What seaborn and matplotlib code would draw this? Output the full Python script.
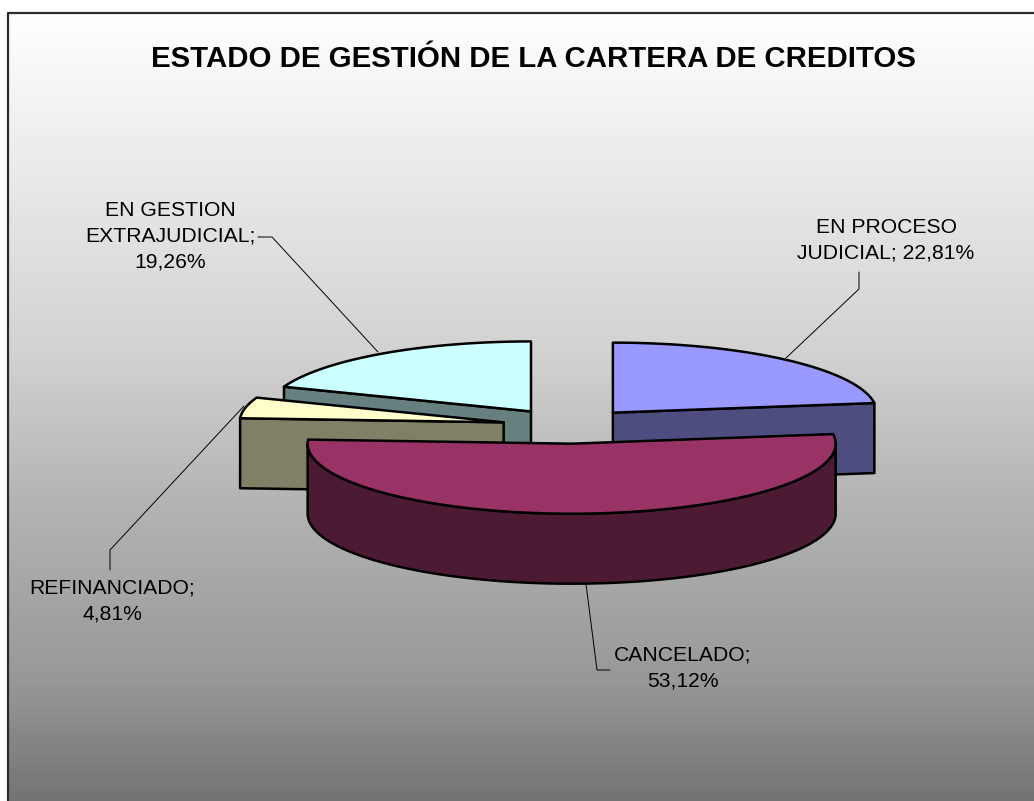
import numpy as np
import matplotlib
matplotlib.use("Agg")
import matplotlib.pyplot as plt
import seaborn as sns
from matplotlib.colors import LinearSegmentedColormap
from matplotlib.patches import Polygon

categories = ["EN PROCESO\nJUDICIAL; 22,81%", "CANCELADO;\n53,12%", "REFINANCIADO;\n4,81%", "EN GESTION\nEXTRAJUDICIAL;\n19,26%"]
values = [22.81, 53.12, 4.81, 19.26]
top_colors = ["#9999FF", "#993366", "#FFFFCC", "#CCFFFF"]
side_colors = ["#4D4D80", "#4D1A33", "#808066", "#668080"]

sns.set_theme(style="white")
plt.rcParams["font.family"] = ["Liberation Sans", "DejaVu Sans"]

top_pal = sns.color_palette(top_colors)
side_pal = sns.color_palette(side_colors)

# pie geometry in pixels
cx, cy = 569, 426
rx, ry = 264, 70
depth = 70
explode = 0.253
edge = 1.8

fig = plt.figure(figsize=(10.34, 8.01), dpi=100)
ax = fig.add_axes([0, 0, 1, 1])
ax.set_xlim(0, 1034)
ax.set_ylim(801, 0)
ax.axis("off")

# background gradient
stops = [(0.0, "#ffffff"), (0.14, "#f0f0f0"), (0.43, "#d2d2d2"), (0.62, "#b4b4b4"), (0.85, "#989898"), (1.0, "#747474")]
cmap = LinearSegmentedColormap.from_list("bg", stops)
ax.imshow(np.linspace(0, 1, 400).reshape(-1, 1), cmap=cmap, aspect="auto", extent=[8, 1034, 801, 13], zorder=0)
ax.set_xlim(0, 1034)
ax.set_ylim(801, 0)
ax.plot([8, 8, 1034], [801, 13, 13], color="#2a2a2a", lw=1.6, zorder=1)


def ellipse_pts(ax0, ay0, a):
    return np.column_stack([ax0 + rx * np.sin(a), ay0 - ry * np.cos(a)])


def draw_slice(i, start, stop, z):
    mid = (start + stop) / 2
    ax0 = cx + explode * rx * np.sin(mid)
    ay0 = cy - explode * ry * np.cos(mid)
    kw = dict(edgecolor="black", linewidth=edge, joinstyle="round", zorder=z)

    # cut walls, only when they face the viewer
    for a, visible in ((start, np.sin(start) < -1e-9), (stop, np.sin(stop) > 1e-9)):
        if not visible:
            continue
        p = ellipse_pts(ax0, ay0, np.array([a]))[0]
        wall = [(ax0, ay0), p, (p[0], p[1] + depth), (ax0, ay0 + depth)]
        ax.add_patch(Polygon(wall, facecolor=side_pal[i], **kw))

    # outer wall, only the part facing front
    lo = max(start, np.pi / 2)
    hi = min(stop, 3 * np.pi / 2)
    if hi > lo:
        arc = ellipse_pts(ax0, ay0, np.linspace(lo, hi, 120))
        low = arc + [0, depth]
        ax.add_patch(Polygon(np.vstack([arc, low[::-1]]), facecolor=side_pal[i], **kw))

    # top face
    arc = ellipse_pts(ax0, ay0, np.linspace(start, stop, 160))
    ax.add_patch(Polygon(np.vstack([[ax0, ay0], arc]), facecolor=top_pal[i], **kw))


edges = np.cumsum([0] + values) / sum(values) * 2 * np.pi
# back slices first
for z, i in enumerate([3, 2, 0, 1]):
    draw_slice(i, edges[i], edges[i + 1], 3 + z)

# leader lines
leaders = [
    ([859, 859, 786], [272, 289, 358]),
    ([610, 597, 586], [670, 670, 584]),
    ([110, 110, 244], [570, 550, 406]),
    ([258, 272, 378], [237, 237, 352]),
]
for xs, ys in leaders:
    ax.plot(xs, ys, color="black", lw=0.7, zorder=2)

label_pos = [(886, 240), (683, 668), (112, 601), (170, 236)]
for lab, (x, y) in zip(categories, label_pos):
    ax.text(x, y, lab, ha="center", va="center", fontsize=15.2, color="black", linespacing=1.45, zorder=10)

ax.text(533, 59, "ESTADO DE GESTIÓN DE LA CARTERA DE CREDITOS", ha="center", va="center",
        fontsize=21.2, fontweight="bold", color="black", zorder=10)

fig.savefig("out.png", dpi=100)
